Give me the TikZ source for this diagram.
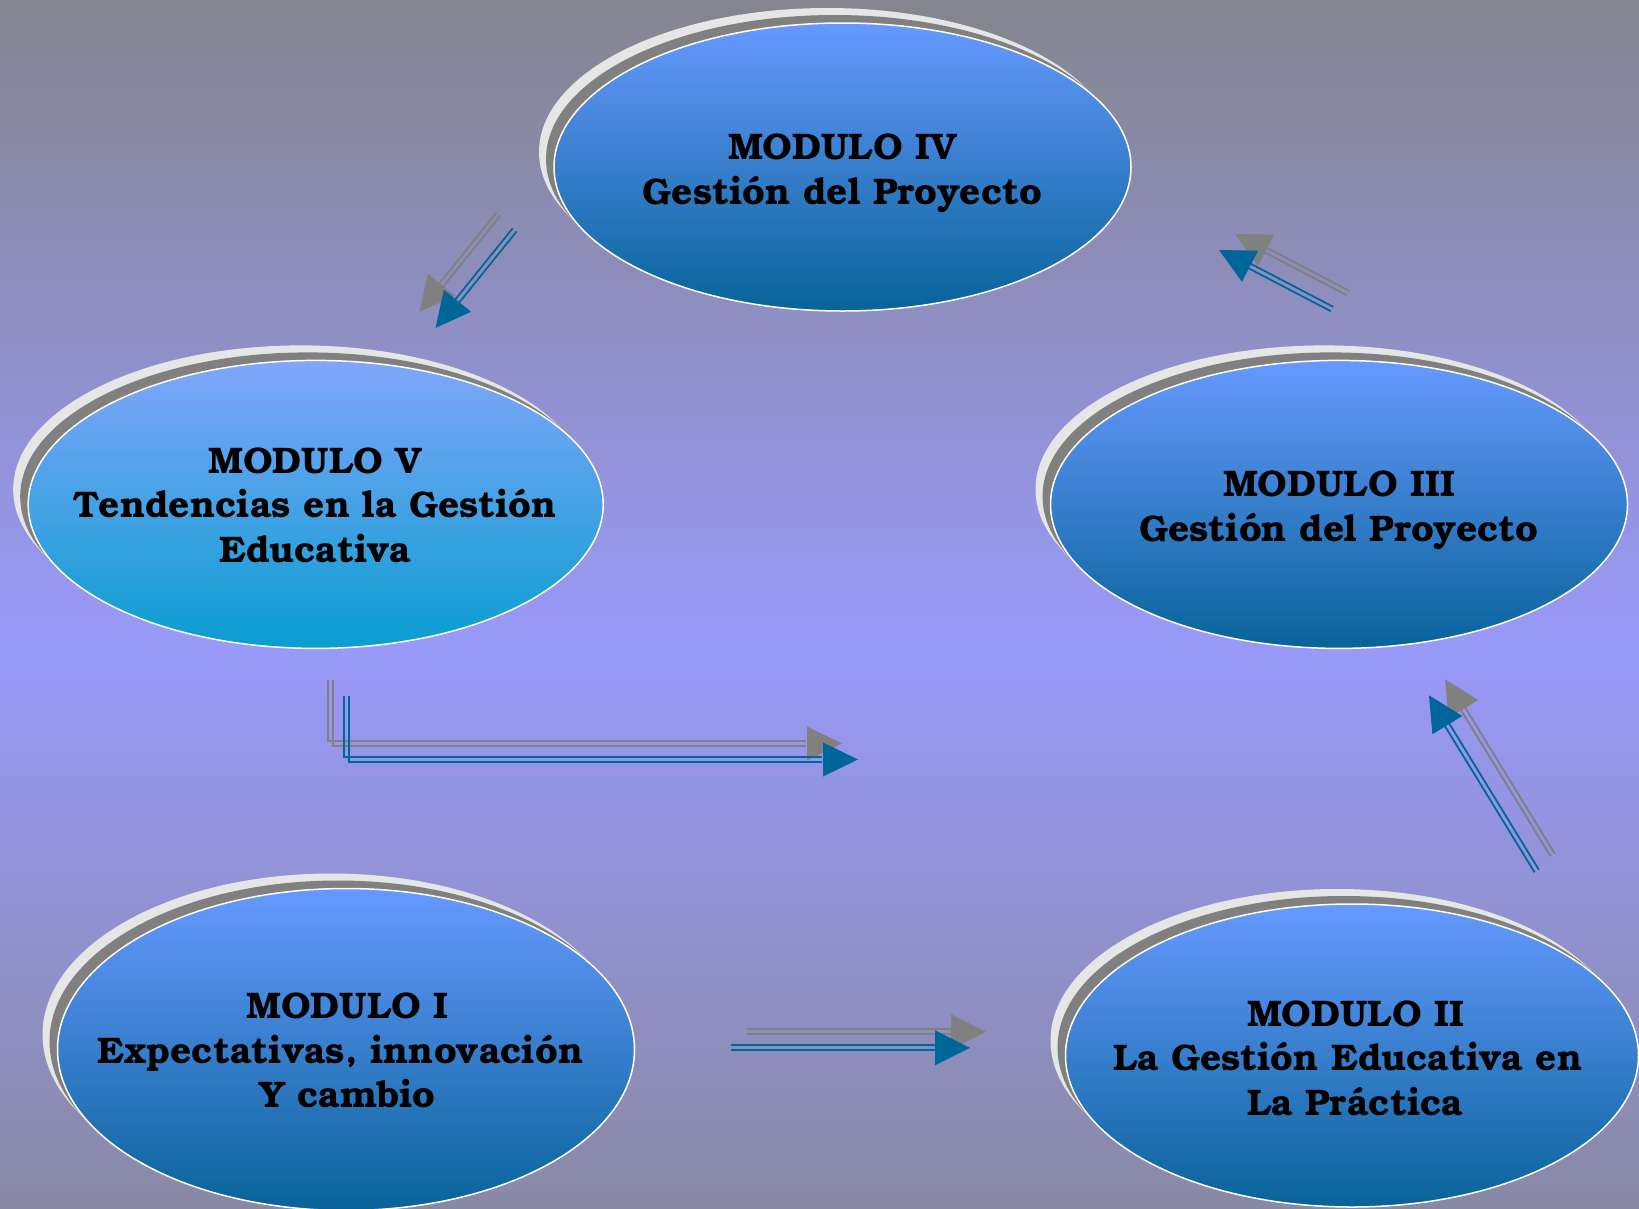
\documentclass[tikz,border=0pt]{standalone}
\usepackage{fontspec}
\setmainfont{texgyrebonum}[Extension=.otf, UprightFont=*-regular, BoldFont=*-bold, ItalicFont=*-italic, BoldItalicFont=*-bolditalic]
\usetikzlibrary{shapes.geometric,shadows,calc}
\definecolor{bgtop}{RGB}{133,133,143}
\definecolor{bgmid}{RGB}{153,153,250}
\definecolor{bgbot}{RGB}{137,137,165}
\definecolor{modtop}{RGB}{102,153,255}
\definecolor{modbot}{RGB}{8,99,153}
\definecolor{cyantop}{RGB}{128,166,250}
\definecolor{cyanbot}{RGB}{10,158,208}
\definecolor{shdark}{RGB}{128,128,128}
\definecolor{shlight}{RGB}{230,230,230}
\definecolor{arrblue}{RGB}{0,102,153}
\definecolor{arrgray}{RGB}{128,128,128}
\pgfdeclareverticalshading{bgshade}{100bp}{color(0bp)=(bgbot); color(25bp)=(bgbot); color(48.2bp)=(bgmid); color(75bp)=(bgtop); color(100bp)=(bgtop)}
\tikzset{
  modshape/.style={ellipse, inner sep=0pt, draw=white, line width=1.5pt,
    general shadow={shadow xshift=-15pt, shadow yshift=15pt, fill=shlight, draw=none},
    general shadow={shadow xshift=-8pt, shadow yshift=8pt, fill=shdark, draw=none},
    top color=modtop, bottom color=modbot},
  modtext/.style={align=center, inner sep=0pt, font=\bfseries\fontsize{37}{44.5}\selectfont},
  arrline/.style={line width=1.8pt},
}
\newcommand\darrow[3]{%
  \coordinate (dA) at (#2);
  \coordinate (dT) at (#3);
  \coordinate (dB) at ($(dT)!35pt!(dA)$);
  \coordinate (dC) at ($(dT)!30pt!(dA)$);
  \draw[#1, arrline] ($(dA)!2.5pt!90:(dT)$) -- ($(dC)!2.5pt!-90:(dA)$);
  \draw[#1, arrline] ($(dA)!2.5pt!-90:(dT)$) -- ($(dC)!2.5pt!90:(dA)$);
  \fill[#1] (dT) -- ($(dB)!17.5pt!90:(dT)$) -- ($(dB)!17.5pt!-90:(dT)$) -- cycle;
}
\begin{document}
\begin{tikzpicture}[x=1pt, y=-1pt]
\useasboundingbox (0,0) rectangle (1639,1208);
\clip (0,0) rectangle (1639,1208);
\shade[shading=bgshade] (0,0) rectangle (1639,1208);

% modules
\node[modshape, minimum width=577pt, minimum height=288pt] (m4) at (842.5,167) {};
\node[modshape, minimum width=575pt, minimum height=288pt, top color=cyantop, bottom color=cyanbot] (m5) at (315.7,504.4) {};
\node[modshape, minimum width=577pt, minimum height=288pt] (m3) at (1339,504.4) {};
\node[modshape, minimum width=577pt, minimum height=322pt] (m1) at (346,1049.5) {};
\node[modshape, minimum width=573pt, minimum height=303pt] (m2) at (1352,1055.5) {};

\node[modtext] (t4) at (842.5,173) {MODULO IV\\Gestión del Proyecto};
\node[modtext] (t5) at (315.5,505) {MODULO V\\Tendencias en la Gestión\\Educativa};
\node[modtext] (t3) at (1339,510) {MODULO III\\Gestión del Proyecto};
\node[modtext] (t1) at (347.5,1050.5) {MODULO I\\Expectativas, innovación\rule{14pt}{0pt}\\Y cambio};
\node[modtext] (t2) at (1355.5,1058) {MODULO II\\La Gestión Educativa en\rule{15pt}{0pt}\\La Práctica};

% arrow end points
\coordinate (a1gs) at (498.5,214); \coordinate (a1gt) at (419.5,312);
\coordinate (a1bs) at (514.5,230); \coordinate (a1bt) at (435.5,328);
\coordinate (a3gs) at (1348,293); \coordinate (a3gt) at (1235,234);
\coordinate (a3bs) at (1332,309); \coordinate (a3bt) at (1219,250);
\coordinate (a4gs) at (1552.7,855); \coordinate (a4gt) at (1445,679.3);
\coordinate (a4bs) at (1536.7,871); \coordinate (a4bt) at (1429,695.3);
\coordinate (a5gs) at (747,1031.8); \coordinate (a5gt) at (986,1031.8);
\coordinate (a5bs) at (731,1047.8); \coordinate (a5bt) at (970,1047.8);
\coordinate (a2gs) at (330.5,680); \coordinate (a2gc) at (330.5,743.5); \coordinate (a2gt) at (842,743.5);
\coordinate (a2bs) at (346.5,696); \coordinate (a2bc) at (346.5,759.5); \coordinate (a2bt) at (858,759.5);

% gray shadow arrows
\darrow{arrgray}{a1gs}{a1gt}
\darrow{arrgray}{a3gs}{a3gt}
\darrow{arrgray}{a4gs}{a4gt}
\darrow{arrgray}{a5gs}{a5gt}
\draw[arrgray, arrline] ([xshift=-2.6pt]a2gs) -- ([shift={(-2.6pt,2.5pt)}]a2gc) -- ([shift={(-36pt,2.5pt)}]a2gt);
\draw[arrgray, arrline] ([xshift=2.6pt]a2gs) -- ([shift={(2.6pt,-2.5pt)}]a2gc) -- ([shift={(-36pt,-2.5pt)}]a2gt);
\fill[arrgray] (a2gt) -- ([shift={(-35pt,17pt)}]a2gt) -- ([shift={(-35pt,-17pt)}]a2gt) -- cycle;

% blue arrows
\darrow{arrblue}{a1bs}{a1bt}
\darrow{arrblue}{a3bs}{a3bt}
\darrow{arrblue}{a4bs}{a4bt}
\darrow{arrblue}{a5bs}{a5bt}
\draw[arrblue, arrline] ([xshift=-2.6pt]a2bs) -- ([shift={(-2.6pt,2.5pt)}]a2bc) -- ([shift={(-36pt,2.5pt)}]a2bt);
\draw[arrblue, arrline] ([xshift=2.6pt]a2bs) -- ([shift={(2.6pt,-2.5pt)}]a2bc) -- ([shift={(-36pt,-2.5pt)}]a2bt);
\fill[arrblue] (a2bt) -- ([shift={(-35pt,17pt)}]a2bt) -- ([shift={(-35pt,-17pt)}]a2bt) -- cycle;
\end{tikzpicture}
\end{document}
